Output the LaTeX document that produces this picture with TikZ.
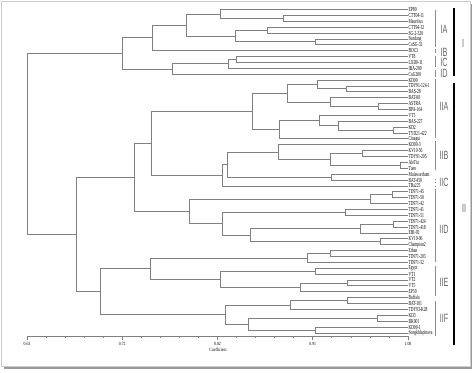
\documentclass[tikz,border=0pt]{standalone}
\usepackage{fontspec}
\setmainfont{Liberation Serif}
\newfontfamily\labfont{Liberation Sans}
\usepackage{tikz}

\begin{document}
\begin{tikzpicture}
		[x=0.75pt,y=-0.75pt,
		%Styles
		branch/.style={draw=black!50,line width=0.6pt,to path={|- (\tikztotarget)}},
		leaf/.style={anchor=west,inner sep=0.6pt,xscale=0.6,font=\fontsize{4.6}{5}\selectfont},
		bracket/.style={draw=black!45,line width=0.6pt},
		major bar/.style={draw=black,line width=1.5pt},
		group text/.style={inner sep=0pt,text=black!60,xscale=0.6,font=\labfont\fontsize{9}{9}\selectfont},
		tick text/.style={inner sep=0pt,xscale=0.8,font=\fontsize{3.6}{4}\selectfont}
		]
		\useasboundingbox (0,0) rectangle (474,372);
		
		%Frame
		\draw[black!20] (1,1) rectangle (470,366);
		\draw[black!40,line width=1.3pt] (4,368) -- (471.5,368) -- (471.5,4);
		
		%Leaves
		\foreach \lab [count=\n] in {EP80,CTT04-11,Mauritius,CTT94-32,SG-2-320,Sundang,CoSG-32,BOC3,VT8,LXD0-11,IBA-200,CoG200,
			KD00,TDY91-124-1,BAS-28,BAT-00,ASTRA,BPA-164,VT3,BAS-227,KD2,TYD21-422,Cinagui,
			KD00-3,KV10-56,TDY91-205,AleTiu,Tuen,Mulawarthum,BAT-450,TBa225,
			TD971-45,TD971-50,TD971-42,TD971-41,TD971-51,TD971-424,TD971-418,EBI-92,KV10-06,Champion2,Ethan,TD971-203,
			TD971-52,Egypt,VT1,VT2,VT5,EP30,Buffalo,BAT-101,TDY93-K28,KD3,BK001,KD00-1,Songkhlapittava}
			\node[leaf] (l\n) at (408,{9.5+5.88*(\n-1)}) {\lab};
		
		%Joins
		\coordinate (r1) at (27,143.95);
		\coordinate (c1) at (122,53.42);
		\coordinate (c2) at (152,37.80);
		\coordinate (c3) at (186,24.94);
		\coordinate (c4) at (220,13.91);
		\coordinate (c5) at (283,18.32);
		\coordinate (c6) at (235,35.96);
		\coordinate (c7) at (267,30.08);
		\coordinate (c8) at (315,41.84);
		\coordinate (c9) at (172,69.04);
		\coordinate (c10) at (228,63.89);
		\coordinate (c11) at (236,59.48);
		\coordinate (r2) at (76,234.48);
		\coordinate (m1) at (134,177.40);
		\coordinate (m2) at (151,143.36);
		\coordinate (a1) at (252,111.48);
		\coordinate (a2) at (287,93.29);
		\coordinate (a3) at (317,84.47);
		\coordinate (a4) at (346,88.88);
		\coordinate (a5) at (330,102.11);
		\coordinate (a6) at (378,106.52);
		\coordinate (a7) at (279,129.67);
		\coordinate (a8) at (319,120.49);
		\coordinate (a9) at (338,125.63);
		\coordinate (a10) at (393,130.04);
		\coordinate (b1) at (278,152.09);
		\coordinate (b2) at (330,159.44);
		\coordinate (b3) at (362,153.56);
		\coordinate (b4) at (400,165.32);
		\coordinate (b5) at (331,177.08);
		\coordinate (b6) at (227,164.59);
		\coordinate (b7) at (222,175.24);
		\coordinate (d1) at (392,194.72);
		\coordinate (d2) at (370,199.13);
		\coordinate (d3) at (345,212.36);
		\coordinate (d4) at (393,224.12);
		\coordinate (d5) at (360,228.53);
		\coordinate (d6) at (380,241.76);
		\coordinate (d7) at (250,235.15);
		\coordinate (d8) at (222,223.75);
		\coordinate (d9) at (189,211.44);
		\coordinate (lo) at (100,291.56);
		\coordinate (e1) at (330,253.52);
		\coordinate (e2) at (307,257.93);
		\coordinate (e3) at (315,271.16);
		\coordinate (e4) at (347,282.92);
		\coordinate (e5) at (300,287.33);
		\coordinate (e6) at (220,279.25);
		\coordinate (e7) at (150,268.59);
		\coordinate (f1) at (347,300.56);
		\coordinate (f2) at (290,304.97);
		\coordinate (f3) at (377,318.20);
		\coordinate (f4) at (315,329.96);
		\coordinate (f5) at (248,324.08);
		\coordinate (f6) at (225,314.53);
		
		\path[branch]
			(r1) edge (c1) edge (r2)
			(c1) edge (c2) edge (c9)
			(c2) edge (c3) edge (l8)
			(c3) edge (c4) edge (c6)
			(c4) edge (l1) edge (c5)
			(c5) edge (l2) edge (l3)
			(c6) edge (c7) edge (c8)
			(c7) edge (l4) edge (l5)
			(c8) edge (l6) edge (l7)
			(c9) edge (c10) edge (l12)
			(c10) edge (c11) edge (l11)
			(c11) edge (l9) edge (l10)
			(r2) edge (m1) edge (lo)
			(m1) edge (m2) edge (d9)
			(m2) edge (a1) edge (b7)
			(a1) edge (a2) edge (a7)
			(a2) edge (a3) edge (a5)
			(a3) edge (l13) edge (a4)
			(a4) edge (l14) edge (l15)
			(a5) edge (l16) edge (a6)
			(a6) edge (l17) edge (l18)
			(a7) edge (a8) edge (l23)
			(a8) edge (l19) edge (a9)
			(a9) edge (l20) edge (a10)
			(a10) edge (l21) edge (l22)
			(b7) edge (b6) edge (l31)
			(b6) edge (b1) edge (b5)
			(b1) edge (l24) edge (b2)
			(b2) edge (b3) edge (b4)
			(b3) edge (l25) edge (l26)
			(b4) edge (l27) edge (l28)
			(b5) edge (l29) edge (l30)
			(d9) edge (d2) edge (d8)
			(d2) edge (d1) edge (l34)
			(d1) edge (l32) edge (l33)
			(d8) edge (d3) edge (d7)
			(d3) edge (l35) edge (l36)
			(d7) edge (d5) edge (d6)
			(d5) edge (d4) edge (l39)
			(d4) edge (l37) edge (l38)
			(d6) edge (l40) edge (l41)
			(lo) edge (e7) edge (f6)
			(e7) edge (e2) edge (e6)
			(e2) edge (e1) edge (l44)
			(e1) edge (l42) edge (l43)
			(e6) edge (e3) edge (e5)
			(e3) edge (l45) edge (l46)
			(e5) edge (e4) edge (l49)
			(e4) edge (l47) edge (l48)
			(f6) edge (f2) edge (f5)
			(f2) edge (f1) edge (l52)
			(f1) edge (l50) edge (l51)
			(f5) edge (f3) edge (f4)
			(f3) edge (l53) edge (l54)
			(f4) edge (l55) edge (l56);
		
		%Groups
		\draw[bracket] (435,10) -- (435,47);
		\draw[bracket,dashed] (435,49) -- (435,54);
		\draw[bracket] (435,56) -- (435,67);
		\draw[bracket] (435,70) -- (435,77);
		\draw[bracket] (435,79) -- (435,138);
		\draw[bracket] (435,141) -- (435,170);
		\draw[bracket,dotted] (435,179) -- (435,186);
		\draw[bracket] (435,189) -- (435,262);
		\draw[bracket] (435,266) -- (435,296);
		\draw[bracket] (435,301) -- (435,336);
		\node[group text] (ia) at (444,29) {IA};
		\node[group text] (ib) at (444,52) {IB};
		\node[group text] (ic) at (444,62) {IC};
		\node[group text] (id) at (444,73) {ID};
		\node[group text] (iia) at (444,106) {IIA};
		\node[group text] (iib) at (444,155) {IIB};
		\node[group text] (iic) at (444,182) {IIC};
		\node[group text] (iid) at (444,229) {IID};
		\node[group text] (iie) at (444,282) {IIE};
		\node[group text] (iif) at (444,318) {IIF};
		\draw[major bar] (454,8) -- (454,76);
		\draw[major bar] (454,83) -- (454,345);
		\node[group text] (gi) at (463,43) {I};
		\node[group text] (gii) at (464,208) {II};
		
		%Axis
		\draw[branch,to path={--(\tikztotarget)}] (27,336) -- (408,336);
		\foreach \t in {0,...,20}
			\draw[black!50,line width=0.5pt] ({27+19.05*\t},336) -- ++(0,2.2);
		\foreach \v [count=\k from 0] in {0.63,0.72,0.82,0.91,1.00}
		{
			\draw[black!50,line width=0.6pt] ({27+95.25*\k},336) -- ++(0,3.5);
			\node[tick text] (tk\k) at ({27+95.25*\k},344) {\v};
		}
		\node[tick text] (coef) at (218,350) {Coefficient};
\end{tikzpicture}
\end{document}
